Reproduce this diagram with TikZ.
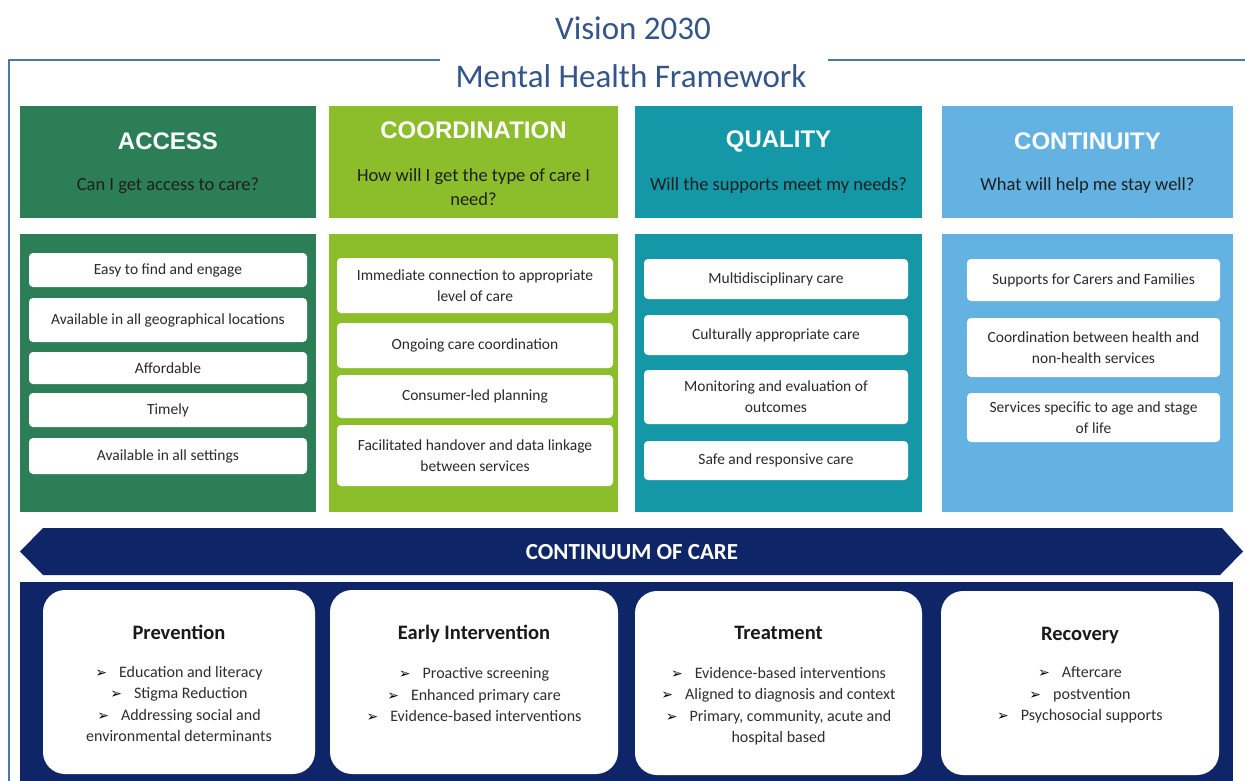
\documentclass[tikz,border=0pt]{standalone}
\usepackage{fontspec}
\setmainfont{Carlito}
\newfontfamily\headfont{Liberation Sans}
\newfontfamily\symfont{DejaVu Sans}
\usetikzlibrary{positioning}

\definecolor{framecol}{RGB}{74,120,173}
\definecolor{titlecol}{RGB}{52,84,140}
\definecolor{accessgreen}{RGB}{43,126,86}
\definecolor{coordgreen}{RGB}{139,190,42}
\definecolor{qualteal}{RGB}{20,151,167}
\definecolor{contblue}{RGB}{99,178,226}
\definecolor{carenavy}{RGB}{14,38,104}
\definecolor{itemtext}{RGB}{42,42,42}

\newcommand{\setfs}[2]{\fontsize{#1}{#2}\selectfont}
\newcommand{\bul}{{\symfont\fontsize{14}{14}\selectfont\color{black}➢}\hspace{12pt}}

\begin{document}
\begin{tikzpicture}[x=1pt,y=-1pt,
		colhead/.style={fill=#1,inner sep=0pt,minimum height=112pt},
		colpanel/.style={fill=#1,inner sep=0pt,minimum height=278pt},
		headtitle/.style={text=white,font=\headfont\bfseries\setfs{24}{28}},
		headsub/.style={text=black!88,align=center,font=\setfs{18.5}{24}},
		item/.style={fill=white,rounded corners=4pt,inner sep=0pt,align=center,
			text=itemtext,font=\setfs{15.5}{21}},
		card/.style={fill=white,rounded corners=22pt,inner sep=0pt,minimum height=184pt},
		cardtitle/.style={text=black!90,text height=14pt,text depth=5pt,font=\bfseries\setfs{20.5}{24}},
		cardlist/.style={text=black!82,align=center,font=\setfs{16}{21.5}}]

	\useasboundingbox (0,0) rectangle (1245,780);

	% title and frame
	\node[text=titlecol,font=\setfs{33}{40}] (vision) at (633,28) {Vision 2030};
	\node[text=titlecol,font=\setfs{33}{40}] (framework) at (631,76) {Mental Health Framework};
	\draw[framecol,line width=2pt] (440,60) -- (9,60) -- (9,781);
	\draw[framecol,line width=2pt] (828,60) -- (1246,60);

	% column headers
	\node[colhead=accessgreen,minimum width=296pt] (acchead) at (168,162) {};
	\node[colhead=coordgreen,minimum width=289pt] (coohead) at (473.5,162) {};
	\node[colhead=qualteal,minimum width=287pt] (qualhead) at (778.5,162) {};
	\node[colhead=contblue,minimum width=291pt] (conthead) at (1087.5,162) {};

	\node[headtitle] (acctitle) at (168,141) {ACCESS};
	\node[headsub] (accsub) at (168,186) {Can I get access to care?};
	\node[headtitle] (cootitle) at (473.5,130) {COORDINATION};
	\node[headsub] (coosub) at (473.5,187) {How will I get the type of care I\\ need?};
	\node[headtitle] (qualtitle) at (778.5,141) {QUALITY};
	\node[headsub] (qualsub) at (778.5,186) {Will the supports meet my needs?};
	\node[headtitle] (conttitle) at (1087.5,141) {CONTINUITY};
	\node[headsub] (contsub) at (1087.5,186) {What will help me stay well?};

	% column panels
	\node[colpanel=accessgreen,minimum width=296pt] (accpanel) at (168,373) {};
	\node[colpanel=coordgreen,minimum width=289pt] (coopanel) at (473.5,373) {};
	\node[colpanel=qualteal,minimum width=287pt] (qualpanel) at (778.5,373) {};
	\node[colpanel=contblue,minimum width=291pt] (contpanel) at (1087.5,373) {};

	% access items
	\node[item,minimum width=278pt,minimum height=34pt] (a1) at (168,270) {Easy to find and engage};
	\node[item,minimum width=278pt,minimum height=44pt] (a2) at (168,320) {Available in all geographical locations};
	\node[item,minimum width=278pt,minimum height=32pt] (a3) at (168,368) {Affordable};
	\node[item,minimum width=278pt,minimum height=34pt] (a4) at (168,410) {Timely};
	\node[item,minimum width=278pt,minimum height=36pt] (a5) at (168,456) {Available in all settings};

	% coordination items
	\node[item,minimum width=276pt,minimum height=55pt] (c1) at (475,285.5) {Immediate connection to appropriate\\ level of care};
	\node[item,minimum width=276pt,minimum height=45pt] (c2) at (475,345.5) {Ongoing care coordination};
	\node[item,minimum width=276pt,minimum height=43pt] (c3) at (475,396.5) {Consumer-led planning};
	\node[item,minimum width=276pt,minimum height=61pt] (c4) at (475,455.5) {Facilitated handover and data linkage\\ between services};

	% quality items
	\node[item,minimum width=264pt,minimum height=40pt] (q1) at (776,279) {Multidisciplinary care};
	\node[item,minimum width=264pt,minimum height=40pt] (q2) at (776,335) {Culturally appropriate care};
	\node[item,minimum width=264pt,minimum height=54pt] (q3) at (776,397) {Monitoring and evaluation of\\ outcomes};
	\node[item,minimum width=264pt,minimum height=39pt] (q4) at (776,460.5) {Safe and responsive care};

	% continuity items
	\node[item,minimum width=253pt,minimum height=42pt] (n1) at (1093.5,280) {Supports for Carers and Families};
	\node[item,minimum width=253pt,minimum height=59pt] (n2) at (1093.5,347.5) {Coordination between health and\\ non-health services};
	\node[item,minimum width=253pt,minimum height=49pt] (n3) at (1093.5,417.5) {Services specific to age and stage\\ of life};

	% continuum band and lower panel
	\fill[carenavy] (20,551.5) -- (43,528) -- (1222,528) -- (1243,551.5) -- (1220,575) -- (43,575) -- cycle;
	\node[text=white,font=\bfseries\setfs{23}{26}] (band) at (632,552) {CONTINUUM OF CARE};
	\fill[carenavy] (20,582) rectangle (1233,781);

	% stages of care
	\node[card,minimum width=272pt] (prev) at (179,682) {};
	\node[card,minimum width=288pt] (early) at (474,682) {};
	\node[card,minimum width=287pt] (treat) at (778.5,683) {};
	\node[card,minimum width=278pt] (recov) at (1080,683) {};

	\node[cardtitle] (prevtitle) at (179,635) {Prevention};
	\node[cardtitle] (earlytitle) at (474,635) {Early Intervention};
	\node[cardtitle] (treattitle) at (778.5,635) {Treatment};
	\node[cardtitle] (recovtitle) at (1080,636) {Recovery};

	\node[cardlist] (prevlist) at (179,704) {\bul Education and literacy\\ \bul Stigma Reduction\\
		\bul Addressing social and\\ environmental determinants};
	\node[cardlist] (earlylist) at (474,695) {\bul Proactive screening\\ \bul Enhanced primary care\\
		\bul Evidence-based interventions};
	\node[cardlist] (treatlist) at (778.5,706) {\bul Evidence-based interventions\\
		\bul Aligned to diagnosis and context\\ \bul Primary, community, acute and\\ hospital based};
	\node[cardlist] (recovlist) at (1080,695) {\bul Aftercare\\ \bul postvention\\ \bul Psychosocial supports};
\end{tikzpicture}
\end{document}
